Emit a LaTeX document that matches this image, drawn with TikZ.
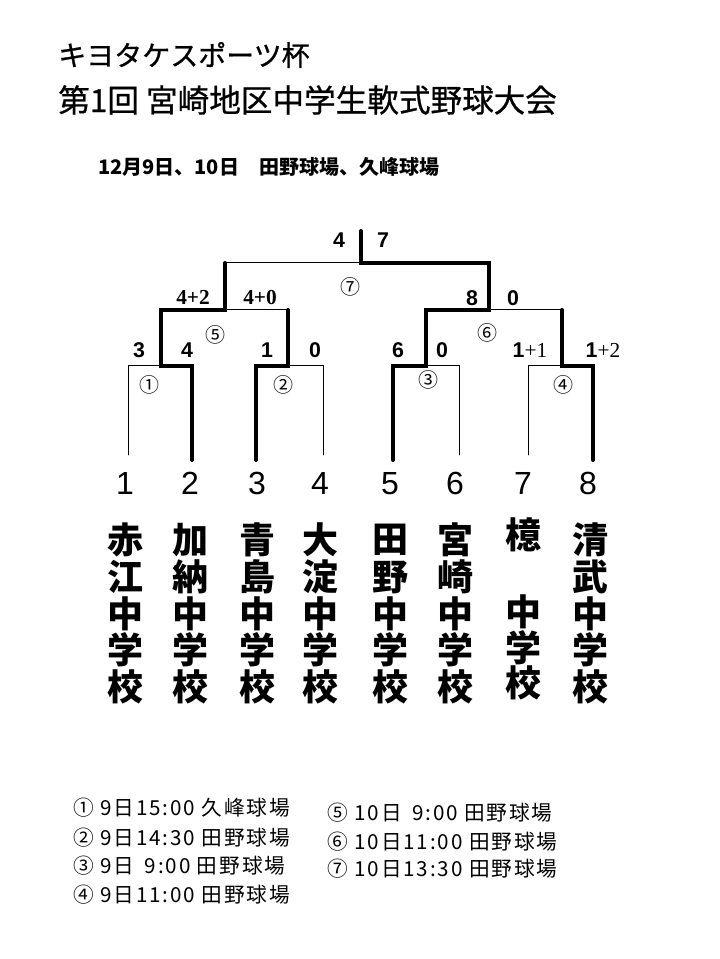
\documentclass[tikz,border=0pt]{standalone}
\usepackage{fontspec}
\usepackage{tkz-euclide}
\setmainfont{Liberation Sans}
\newfontfamily\jp{Noto Sans CJK JP}
\newfontfamily\jpt{Noto Sans CJK JP}[FakeBold=0.8]
\newfontfamily\jpsp{Noto Sans CJK JP}[LetterSpace=9]
\newfontfamily\tms{Liberation Serif}
\tikzset{>=stealth}
\tikzset{
  win/.style={line width=3pt,line join=miter},
  lose/.style={line width=0.75pt},
  score/.style={inner sep=0pt,anchor=base,font=\fontsize{16}{16}\selectfont\bfseries},
  tscore/.style={inner sep=0pt,anchor=base,font=\tms\fontsize{16}{16}\selectfont\bfseries},
  circnum/.style={inner sep=0pt,font=\jp\fontsize{15}{15}\selectfont},
  seed/.style={inner sep=0pt,anchor=base,font=\fontsize{24}{24}\selectfont},
  school/.style={inner sep=0pt,font=\jp\fontsize{27}{27}\selectfont\bfseries},
  legend/.style={inner sep=0pt,anchor=west,font=\jpsp\fontsize{15.5}{15.5}\selectfont},
}

\begin{document}
\begin{tikzpicture}[x=0.75pt,y=0.75pt]
\useasboundingbox (0,0) rectangle (719,959);
% titles
\node[inner sep=0pt,anchor=west,font=\jpt\fontsize{21}{21}\selectfont] (title1) at (58,904) {キヨタケスポーツ杯};
\node[inner sep=0pt,anchor=west,font=\jpt\fontsize{23.7}{23.7}\selectfont] (title2) at (58,859) {第1回 宮崎地区中学生軟式野球大会};
\node[inner sep=0pt,anchor=west,font=\jp\fontsize{15}{15}\selectfont\bfseries] (dates) at (98,792) {12月9日、10日\quad 田野球場、久峰球場};
% bracket points
\tkzDefPoints{128/504/A1, 192/499/A2, 256/499/A3, 323/504/A4, 393/499/A5, 459/504/A6, 528/504/A7, 593/499/A8}
\tkzDefPoints{128/593/B1, 192/593/B2, 256/593/B3, 323/593/B4, 393/593/B5, 459/593/B6, 528/593/B7, 593/593/B8}
\tkzDefPoints{161/593/M1, 288/593/M2, 426/593/M3, 562/593/M4}
\tkzDefPoints{161/649/N1, 288/649/N2, 426/649/N3, 562/649/N4}
\tkzDefPoints{225/649/P5, 225/696/Q5, 489/649/P6, 489/696/Q6, 361/696/F, 361/728/T}
% losers
\tkzDrawPolySeg[lose](A1,B1,M1)
\tkzDrawPolySeg[lose](M2,B4,A4)
\tkzDrawPolySeg[lose](M3,B6,A6)
\tkzDrawPolySeg[lose](A7,B7,M4)
\tkzDrawSegments[lose](P5,N2 P6,N4 Q5,F)
% winners
\tkzDrawPolySeg[win](A2,B2,M1,N1,P5,Q5)
\tkzDrawPolySeg[win](A3,B3,M2,N2)
\tkzDrawPolySeg[win](A5,B5,M3,N3,P6,Q6,F,T)
\tkzDrawPolySeg[win](A8,B8,M4,N4)
% scores
\node[score] (s1a) at (139,601) {3};
\node[score] (s1b) at (187,601) {4};
\node[score] (s2a) at (267,601) {1};
\node[score] (s2b) at (315,601) {0};
\node[score] (s3a) at (398,601) {6};
\node[score] (s3b) at (442,601) {0};
\node[score] (s4a) at (530,601) {1{\tms\mdseries+1}};
\node[score] (s4b) at (603,601) {1{\tms\mdseries+2}};
\node[tscore] (s5a) at (193,654) {4+2};
\node[tscore] (s5b) at (260,654) {4+0};
\node[score] (s6a) at (472,653) {8};
\node[score] (s6b) at (513,653) {0};
\node[score] (s7a) at (339,711) {4};
\node[score] (s7b) at (383,711) {7};
% match numbers
\node[circnum] (c1) at (149,574) {①};
\node[circnum] (c2) at (283,574) {②};
\node[circnum] (c3) at (428,579) {③};
\node[circnum] (c4) at (563,574) {④};
\node[circnum] (c5) at (215,624) {⑤};
\node[circnum] (c6) at (487,626) {⑥};
\node[circnum] (c7) at (350,672) {⑦};
% seeds
\foreach \n/\x in {1/125,2/190,3/257,4/320,5/390,6/455,7/523,8/588}
  \node[seed] (n\n) at (\x,464) {\n};
% schools
\foreach \x/\a/\b [count=\i] in {125/赤/江,190/加/納,257/青/島,320/大/淀,390/田/野,455/宮/崎,590/清/武}{
  \node[school] (t\i a) at (\x,419) {\a};
  \node[school] (t\i b) at (\x,382) {\b};
  \node[school] (t\i c) at (\x,345.5) {中};
  \node[school] (t\i d) at (\x,309) {学};
  \node[school] (t\i e) at (\x,272) {校};
}
\node[school] (t8a) at (523,424) {檍};
\node[school] (t8c) at (523,347) {中};
\node[school] (t8d) at (523,311) {学};
\node[school] (t8e) at (523,276) {校};
% schedule
\node[legend] (g1) at (73,151) {① 9日15:00 久峰球場};
\node[legend] (g2) at (73,121) {② 9日14:30 田野球場};
\node[legend] (g3) at (73,93) {③ 9日\enspace 9:00 田野球場};
\node[legend] (g4) at (73,64) {④ 9日11:00 田野球場};
\node[legend] (g5) at (327,146) {⑤ 10日\enspace 9:00 田野球場};
\node[legend] (g6) at (327,117) {⑥ 10日11:00 田野球場};
\node[legend] (g7) at (327,90) {⑦ 10日13:30 田野球場};
\end{tikzpicture}
\end{document}
